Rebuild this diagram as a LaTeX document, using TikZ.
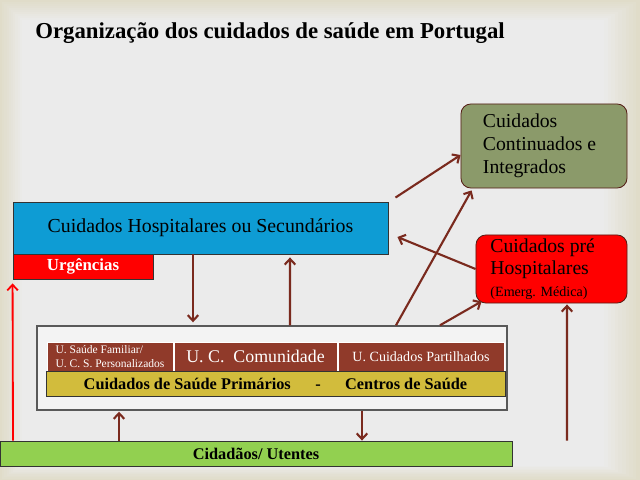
\documentclass[tikz,border=0pt]{standalone}
\usepackage{fontspec}
\setmainfont{Liberation Serif}
\usetikzlibrary{arrows.meta,calc}

\definecolor{bgbeige}{HTML}{E0DCC9}
\definecolor{bggray}{HTML}{EBEBEB}
\definecolor{linkbrown}{HTML}{7A2A1E}
\definecolor{unitbrown}{HTML}{903A2A}
\definecolor{hospblue}{HTML}{0E9CD4}
\definecolor{contolive}{HTML}{8B9A6A}
\definecolor{primyellow}{HTML}{D2BC3C}
\definecolor{cidgreen}{HTML}{92D050}

\begin{document}
\begin{tikzpicture}[
    x=0.025cm, y=-0.025cm,
    >={Straight Barb[length=4pt,width=7.5pt]},
    box/.style={
        rectangle,
        inner sep=0pt,
        draw=black!80,
        line width=0.6pt
    },
    roundbox/.style={
        box,
        rounded corners=7pt,
        draw=linkbrown!70!black,
        text width=3.05cm,
        align=flush left
    },
    unit/.style={
        box,
        fill=unitbrown,
        draw=white,
        text=white,
        minimum height=0.725cm
    },
    bar/.style={
        box,
        minimum height=0.625cm,
        font=\fontsize{11.6}{13}\selectfont\bfseries
    },
    link/.style={
        ->,
        draw=linkbrown,
        line width=1.5pt
    }
]

    % Background
    \useasboundingbox (0,0) rectangle (640,480);
    \foreach \k in {0,...,10} {
        \pgfmathtruncatemacro\pct{\k*10}
        \fill[bggray!\pct!bgbeige] (\k*2.2,\k*2) rectangle (640-\k*3.6,480-\k*1.4);
    }

    % Title
    \node[anchor=base west, inner sep=0pt, font=\fontsize{16.2}{19}\selectfont\bfseries] (title)
        at (35,38) {Organização dos cuidados de saúde em Portugal};

    % Hospital care
    \node[box, fill=hospblue, minimum width=9.375cm, minimum height=1.3cm,
          font=\fontsize{14.1}{16}\selectfont] (hosp) at (200.5,228)
        {Cuidados Hospitalares ou Secundários};
    \node[bar, fill=red, text=white, minimum width=3.5cm, font=\fontsize{12}{14}\selectfont\bfseries] (urg)
        at (83,266.5) {Urgências};

    % Right side boxes
    \node[roundbox, fill=contolive, minimum width=4.15cm, minimum height=2.1cm,
          font=\fontsize{14}{16.5}\selectfont] (cont) at (544,146)
        {Cuidados\\Continuados e\\Integrados};
    \node[roundbox, fill=red, minimum width=3.775cm, minimum height=1.7cm,
          font=\fontsize{14}{15.5}\selectfont] (pre) at (551.5,269)
        {Cuidados pré\\Hospitalares\\{\fontsize{10}{12}\selectfont(Emerg. Médica)}};

    % Primary care
    \node[box, fill=bggray!60!white, draw=black!65, line width=1pt,
          minimum width=11.75cm, minimum height=2.1cm] (csp) at (272,368) {};
    \node[unit, minimum width=3.15cm, align=left, font=\fontsize{8.2}{9.5}\selectfont] (usf)
        at (110,356.5) {U. Saúde Familiar/\\U. C. S. Personalizados};
    \node[unit, minimum width=4.075cm, font=\fontsize{12.7}{15}\selectfont] (ucc)
        at (255.5,356.5) {U. C.~~Comunidade};
    \node[unit, minimum width=4.15cm, font=\fontsize{10}{12}\selectfont] (ucp)
        at (421,356.5) {U. Cuidados Partilhados};
    \node[bar, fill=primyellow, minimum width=11.475cm] (prim) at (275.5,383.5)
        {Cuidados de Saúde Primários\hspace{1.5em}-\hspace{1.5em}Centros de Saúde};

    % Citizens
    \node[bar, fill=cidgreen, minimum width=12.8cm] (cid) at (256,453.5)
        {Cidadãos/ Utentes};

    % Connections
    \draw[link] ($(hosp.south)+(-7.5,0)$) -- ($(csp.north)+(-79,-3)$);
    \draw[link] ($(csp.north)+(18,0)$) -- ($(hosp.south)+(89.5,3)$);
    \draw[link] ($(hosp.north east)+(7,-4)$) -- ($(cont.west)+(0,9)$);
    \draw[link] ($(csp.north)+(124,0)$) -- ($(cont.south west)+(11,2)$);
    \draw[link] (pre.west) -- ($(hosp.east)+(9,9)$);
    \draw[link] ($(csp.north)+(168,0)$) -- ($(pre.south west)+(6,-2)$);
    \draw[link] ($(cid.north)+(311,0)$) -- ($(pre.south)+(15.5,1)$);
    \draw[link] ($(cid.north)+(-137,0)$) -- ($(csp.south)+(-153,1)$);
    \draw[link] ($(csp.south)+(90,0)$) -- ($(cid.north)+(106,0)$);
    \draw[link, draw=red, line width=1.3pt] ($(cid.north)+(-243,0)$) -- ($(urg.south west)+(0,4)$);

\end{tikzpicture}
\end{document}
